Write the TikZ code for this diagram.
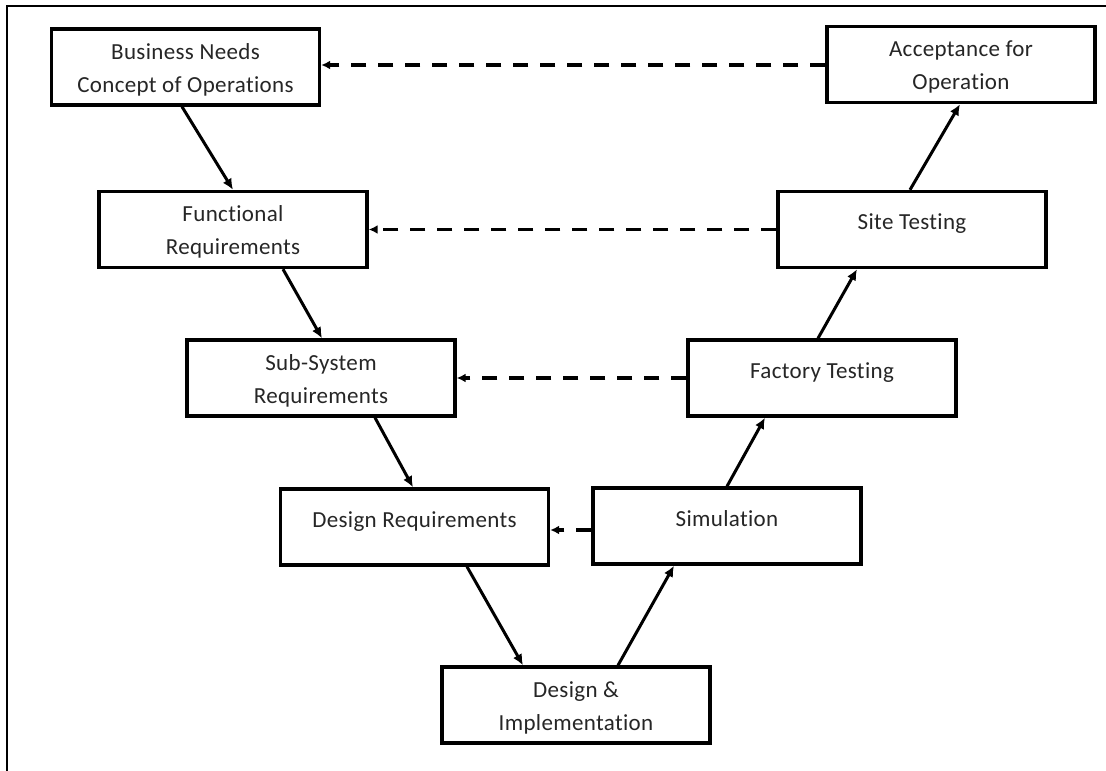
\documentclass[tikz,border=0pt]{standalone}
\usepackage{fontspec}
\setmainfont{Carlito}[Ligatures=NoCommon, LetterSpace=1.5]
\usetikzlibrary{arrows.meta}
\begin{document}
\begin{tikzpicture}[x=1pt,y=-1pt,
  stagebox/.style={draw=black, line width=3.4pt, fill=white, minimum width=268pt,
    minimum height=76pt, inner sep=0pt, align=center, text=black!85,
    font=\fontsize{23}{33}\selectfont},
  oneline/.style={text height=16pt, text depth=16pt},
  twoline/.style={text height=56pt, text depth=5.2pt},
  flow/.style={line width=3pt, -{Latex[length=11pt,width=10pt]}},
  trace/.style={line width=3.2pt, dash pattern=on 15pt off 12pt,
    -{Latex[length=9pt,width=9pt]}}]
\useasboundingbox (0,0) rectangle (1106,771);
% open frame: left and top edges
\draw[line width=2.2pt] (7,771) -- (7,6) -- (1106,6);

% left leg of the V
\node[stagebox, twoline] (biz) at (185.5,67) {Business Needs\\Concept of Operations};
\node[stagebox, twoline] (func) at (233,229.5) {Functional\\Requirements};
\node[stagebox, twoline] (sub) at (321,378) {Sub-System\\Requirements};
\node[stagebox, oneline] (dreq) at (414.5,527) {Design Requirements};
% bottom
\node[stagebox, twoline] (impl) at (576,705) {Design \&\\Implementation};
% right leg of the V
\node[stagebox, oneline] (sim) at (727,526) {Simulation};
\node[stagebox, oneline] (fact) at (822,378) {Factory Testing};
\node[stagebox, oneline] (site) at (912,229.5) {Site Testing};
\node[stagebox, twoline] (acc) at (961,64.5) {Acceptance for\\Operation};

% development flow
\draw[flow] ([xshift=-3.5pt]biz.south) -- (func.north);
\draw[flow] ([xshift=50pt]func.south) -- ([xshift=1pt]sub.north);
\draw[flow] ([xshift=54pt]sub.south) -- ([xshift=-1.5pt]dreq.north);
\draw[flow] ([xshift=52.5pt]dreq.south) -- ([xshift=-53pt]impl.north);
\draw[flow] ([xshift=42pt]impl.north) -- ([xshift=-53pt]sim.south);
\draw[flow] (sim.north) -- ([xshift=-57pt]fact.south);
\draw[flow] ([xshift=-4pt]fact.north) -- ([xshift=-55pt]site.south);
\draw[flow] ([xshift=-2pt]site.north) -- ([xshift=-1pt]acc.south);

% verification traces back to requirements
\draw[trace] ([yshift=-0.5pt]acc.west) -- ([yshift=2pt]biz.east);
\draw[trace] (site.west) -- (func.east);
\draw[trace] (fact.west) -- (sub.east);
\draw[trace] ([yshift=-4pt]sim.west) -- ([yshift=-3pt]dreq.east);
\end{tikzpicture}
\end{document}
